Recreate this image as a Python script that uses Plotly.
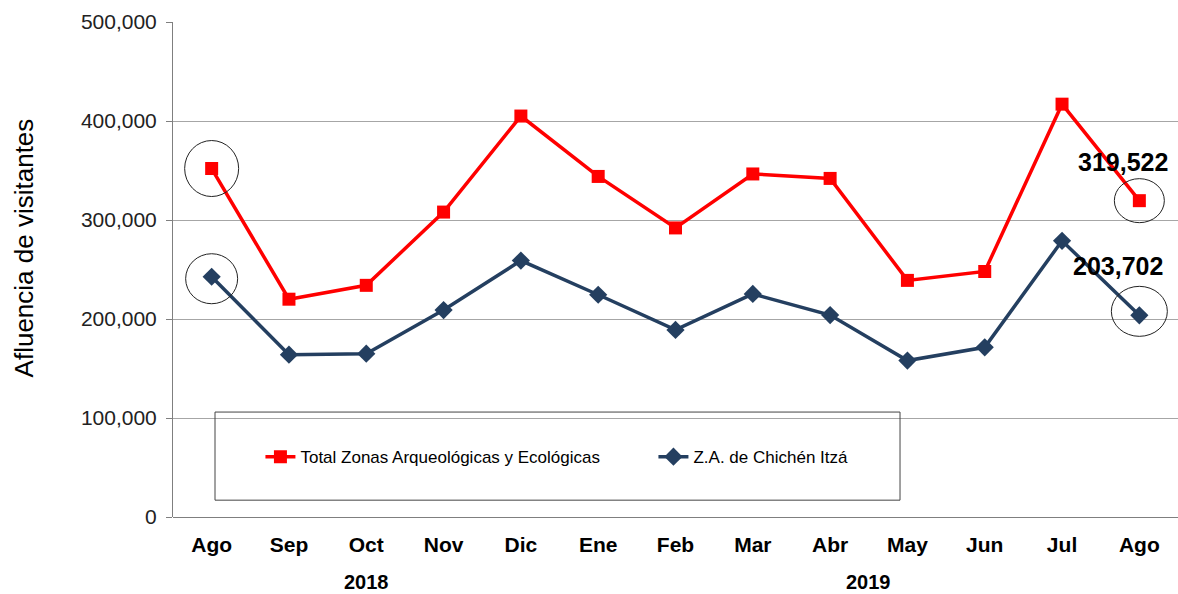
import plotly.graph_objects as go

months = ["Ago", "Sep", "Oct", "Nov", "Dic", "Ene", "Feb", "Mar", "Abr", "May", "Jun", "Jul", "Ago"]
total_zonas = [352000, 220000, 234000, 308000, 405000, 344000, 292000, 346500, 342000,
               239000, 248000, 417000, 319522]
chichen_itza = [242700, 164000, 165000, 209000, 259000, 224500, 189000, 225300, 204000,
                158000, 171400, 279000, 203702]
years = ["2018", "2019"]
year_pos = [2, 8.5]

x = list(range(len(months)))
RED = "#FF0000"
NAVY = "#243F60"

fig = go.Figure()
fig.add_trace(go.Scatter(
    x=x, y=total_zonas, name="Total Zonas Arqueológicas y Ecológicas",
    mode="lines+markers",
    line=dict(color=RED, width=3.5),
    marker=dict(symbol="square", size=13, color=RED),
))
fig.add_trace(go.Scatter(
    x=x, y=chichen_itza, name="Z.A. de Chichén Itzá",
    mode="lines+markers",
    line=dict(color=NAVY, width=3.5),
    marker=dict(symbol="diamond", size=14, color=NAVY),
))

# hand-drawn style circles around first and last month (pixel radii)
last = len(months) - 1
circles = [
    (0, total_zonas, 27, 28, 0),
    (0, chichen_itza, 26, 25, -2),
    (last, total_zonas, 25, 22, 0),
    (last, chichen_itza, 28, 25, 4),
]
shapes = []
for i, series, rx, ry, dy in circles:
    shapes.append(dict(
        type="circle", xref="x", yref="y",
        xsizemode="pixel", ysizemode="pixel",
        xanchor=x[i], yanchor=series[i],
        x0=-rx, x1=rx, y0=-ry + dy, y1=ry + dy,
        line=dict(color="#222222", width=1),
    ))

# legend frame
shapes.append(dict(
    type="rect", xref="paper", yref="paper",
    x0=0.0418, x1=0.7234, y0=0.034, y1=0.212,
    line=dict(color="#444444", width=1), layer="above",
))

annotations = [
    dict(x=x[-1], y=total_zonas[-1], xref="x", yref="y", text=f"<b>{total_zonas[-1]:,}</b>",
         showarrow=False, xshift=-16, yshift=39,
         font=dict(family="Arial", size=25, color="#000000")),
    dict(x=x[-1], y=chichen_itza[-1], xref="x", yref="y", text=f"<b>{chichen_itza[-1]:,}</b>",
         showarrow=False, xshift=-21, yshift=49,
         font=dict(family="Arial", size=25, color="#000000")),
    dict(x=-0.165, y=0.543, xref="paper", yref="paper", text="Afluencia de visitantes",
         showarrow=False, textangle=-90,
         font=dict(family="Arial", size=26, color="#000000")),
]
for yr, pos in zip(years, year_pos):
    annotations.append(dict(
        x=pos, y=-0.131, xref="x", yref="paper", text=f"<b>{yr}</b>",
        showarrow=False, yanchor="middle",
        font=dict(family="Arial", size=20, color="#000000"),
    ))

fig.update_layout(
    width=1178, height=594,
    margin=dict(l=173, r=0, t=22, b=77),
    paper_bgcolor="white", plot_bgcolor="white",
    font=dict(family="Arial", color="#000000"),
    shapes=shapes, annotations=annotations,
    legend=dict(
        orientation="h", x=0.087, y=0.121, xanchor="left", yanchor="middle",
        bgcolor="rgba(0,0,0,0)", font=dict(family="Arial", size=17, color="#000000"),
        entrywidth=348,
    ),
    xaxis=dict(
        tickvals=x, ticktext=[f"<b>{m}</b>" for m in months],
        range=[-0.5, len(months) - 0.5],
        showgrid=False, zeroline=False, showline=False,
        tickfont=dict(family="Arial", size=21, color="#000000"),
        ticks="", ticklen=0, ticklabelstandoff=13,
    ),
    yaxis=dict(
        range=[0, 500000], dtick=100000, tickformat=",d",
        showgrid=True, gridcolor="#A6A6A6", gridwidth=1,
        zeroline=True, zerolinecolor="#7F7F7F", zerolinewidth=1,
        showline=True, linecolor="#7F7F7F", linewidth=1,
        ticks="outside", ticklen=6, tickcolor="#7F7F7F",
        tickfont=dict(family="Arial", size=21, color="#222222"),
        ticklabelstandoff=5,
    ),
)

fig.write_html("out.html", config={"displayModeBar": False},
               post_script="document.body.style.margin='0';")
